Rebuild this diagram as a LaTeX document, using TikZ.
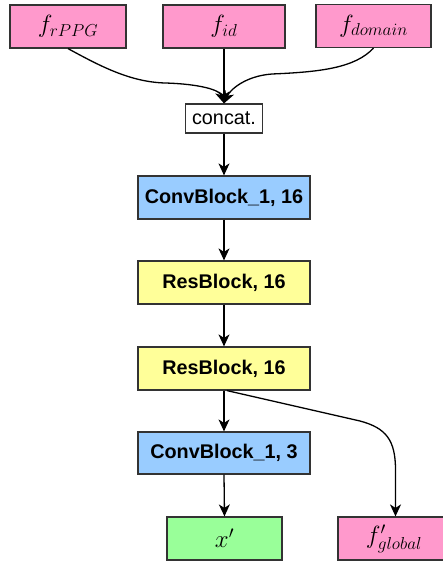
\documentclass[tikz,border=0pt]{standalone}
\usepackage{fontspec}
\setsansfont{Liberation Sans}
\usetikzlibrary{arrows.meta}
\definecolor{featpink}{HTML}{FF99CC}
\definecolor{convblue}{HTML}{99CCFF}
\definecolor{resyellow}{HTML}{FFFF99}
\definecolor{outgreen}{HTML}{99FF99}
\tikzset{
  blk/.style={draw=black!80, line width=1.2pt, inner sep=0pt, minimum height=43pt,
    font=\fontsize{19.8}{23}\selectfont\sffamily\bfseries},
  feat/.style={blk, fill=featpink, font=\fontsize{25}{30}\selectfont},
  conv/.style={blk, fill=convblue, minimum width=172pt},
  res/.style={blk, fill=resyellow, minimum width=172pt},
  flow/.style={line width=1.3pt, -{Stealth[length=12pt, width=11pt, inset=3.5pt]}},
}
\begin{document}
\begin{tikzpicture}[x=1pt, y=-1pt]
  \useasboundingbox (0,0) rectangle (443,561);

  % input features
  \node[feat, minimum width=116pt] (frppg) at (68,26.5) {$f_{rPPG}$};
  \node[feat, minimum width=122pt] (fid) at (224,26.5) {$f_{id}$};
  \node[feat, minimum width=115pt] (fdom) at (373.5,26) {$f_{domain}$};

  % concatenation
  \node[draw=black!80, line width=1.2pt, fill=white, minimum width=77pt, minimum height=29pt,
    inner sep=0pt, font=\fontsize{19.8}{23}\selectfont\sffamily] (cat) at (224,118.5) {concat.};

  % main trunk
  \node[conv] (cb16) at (224,197.5) {ConvBlock\_1, 16};
  \node[res]  (rb1)  at (224,282.5) {ResBlock, 16};
  \node[res]  (rb2)  at (224,368.5) {ResBlock, 16};
  \node[conv, minimum height=42pt] (cb3) at (224,453) {ConvBlock\_1, 3};

  % outputs (the right one runs past the page edge)
  \node[feat, fill=outgreen, minimum width=115pt] (xp) at (224.5,538.5) {$x'$};
  \node[feat, minimum width=112pt] (fg) at (394,538.5) {$f'_{global}$};

  \coordinate (gstart) at ([xshift=3pt]rb2.south);
  \coordinate (gend) at ([xshift=1.5pt]fg.north);

  % connectors
  \draw[flow] (frppg.south) .. controls (100,66) and (130,82) .. (165,83)
              .. controls (200,84) and (220,90) .. (cat.north);
  \draw[flow] (fid.south) -- (cat.north);
  \draw[flow] (fdom.south) .. controls (355,68) and (320,72) .. (272,74)
              .. controls (245,76) and (230,90) .. (cat.north);
  \draw[flow] (cat.south) -- (cb16.north);
  \draw[flow] (cb16.south) -- (rb1.north);
  \draw[flow] (rb1.south) -- (rb2.north);
  \draw[flow] (rb2.south) -- (cb3.north);
  \draw[flow] (cb3.south) -- (xp.north);
  \draw[flow] (gstart) -- (360,421) .. controls (386,428) and (395.5,440) .. (395.5,470) -- (gend);
\end{tikzpicture}
\end{document}
